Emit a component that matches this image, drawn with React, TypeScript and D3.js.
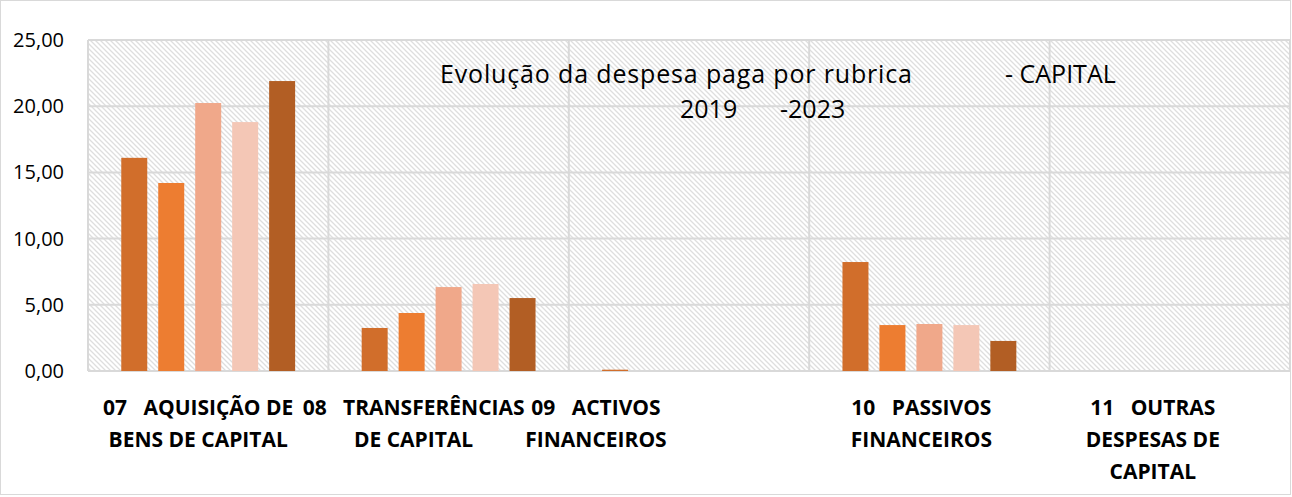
import React, { useRef, useEffect } from 'react';
import * as d3 from 'd3';

const categories = [
  ['07   AQUISIÇÃO DE', 'BENS DE CAPITAL'],
  ['08   TRANSFERÊNCIAS', 'DE CAPITAL'],
  ['09   ACTIVOS', 'FINANCEIROS'],
  ['10   PASSIVOS', 'FINANCEIROS'],
  ['11   OUTRAS', 'DESPESAS DE', 'CAPITAL'],
];
const years = ['2019', '2020', '2021', '2022', '2023'];
const v2019 = [16.1, 3.25, 0.1, 8.23, 0];
const v2020 = [14.2, 4.38, 0, 3.47, 0];
const v2021 = [20.24, 6.34, 0, 3.55, 0];
const v2022 = [18.8, 6.57, 0, 3.47, 0];
const v2023 = [21.9, 5.51, 0, 2.27, 0];
const yTicks = [0, 5, 10, 15, 20, 25];

const colors = ['#D16E2B', '#ED7D31', '#F0A88A', '#F4C7B6', '#B25E24'];
// Excel shifts some wrapped labels; small per-label nudges
const labelShift = [-10, -35, -93, -8, -17];

export default function App() {
  const svgRef = useRef(null);

  useEffect(() => {
    document.body.style.margin = '0';
    const width = 1292;
    const height = 497;
    const m = { top: 40, right: 2, bottom: 126, left: 88 };

    const svg = d3.select(svgRef.current);
    svg.selectAll('*').remove();
    svg.attr('width', width).attr('height', height);

    const defs = svg.append('defs');
    const pat = defs.append('pattern')
      .attr('id', 'hatch')
      .attr('patternUnits', 'userSpaceOnUse')
      .attr('width', 5).attr('height', 5);
    pat.append('rect').attr('width', 5).attr('height', 5).attr('fill', '#fff');
    pat.append('path')
      .attr('d', 'M-1,-1 L6,6 M-4,1 L4,9 M1,-4 L9,4')
      .attr('stroke', '#dedede')
      .attr('stroke-width', 1.3);

    svg.append('rect')
      .attr('x', 0.5).attr('y', 0.5)
      .attr('width', width - 2).attr('height', height - 3)
      .attr('fill', '#fff').attr('stroke', '#d9d9d9');

    const x0 = d3.scaleBand()
      .domain(categories.map((_, i) => String(i)))
      .range([m.left, width - m.right])
      .paddingInner(0)
      .paddingOuter(0);
    const x1 = d3.scaleBand()
      .domain(years)
      .range([0, x0.bandwidth()])
      .paddingInner(0.297)
      .paddingOuter(0.9);
    const y = d3.scaleLinear().domain([0, 25]).range([height - m.bottom, m.top]);

    const g = svg.append('g');
    g.append('rect')
      .attr('x', m.left).attr('y', m.top)
      .attr('width', width - m.left - m.right)
      .attr('height', y(0) - m.top)
      .attr('fill', 'url(#hatch)');

    // gridlines
    g.selectAll('.hg').data(yTicks).enter().append('line')
      .attr('x1', m.left).attr('x2', width - m.right)
      .attr('y1', d => y(d)).attr('y2', d => y(d))
      .attr('stroke', '#d9d9d9').attr('stroke-width', 2);
    const bounds = categories.map((_, i) => x0(String(i))).concat([width - m.right]);
    g.selectAll('.vg').data(bounds).enter().append('line')
      .attr('x1', d => d).attr('x2', d => d)
      .attr('y1', m.top).attr('y2', y(0))
      .attr('stroke', '#d9d9d9').attr('stroke-width', 2);

    g.selectAll('.yl').data(yTicks).enter().append('text')
      .attr('x', 64).attr('y', d => y(d))
      .attr('dy', '0.35em')
      .attr('text-anchor', 'end')
      .attr('font-family', 'Open Sans, sans-serif')
      .attr('font-size', 20)
      .attr('fill', '#000')
      .text(d => d3.format('.2f')(d).replace('.', ','));

    const series = [v2019, v2020, v2021, v2022, v2023];
    const bars = [];
    series.forEach((vals, si) => {
      vals.forEach((v, ci) => { if (v > 0) bars.push({ si, ci, v }); });
    });
    g.selectAll('.bar').data(bars).enter().append('rect')
      .attr('x', d => (x0(String(d.ci)) || 0) + (x1(years[d.si]) || 0))
      .attr('width', x1.bandwidth())
      .attr('y', d => y(d.v))
      .attr('height', d => Math.max(0, y(0) - y(d.v)))
      .attr('fill', d => colors[d.si]);

    // category labels
    categories.forEach((lines, i) => {
      const cx = (x0(String(i)) || 0) + x0.bandwidth() / 2 + labelShift[i];
      const t = g.append('text')
        .attr('text-anchor', 'middle')
        .attr('font-family', 'Open Sans, sans-serif')
        .attr('font-weight', 'bold')
        .attr('font-size', 21)
        .attr('fill', '#000')
        .style('white-space', 'pre');
      lines.forEach((ln, li) => {
        t.append('tspan').attr('x', cx).attr('y', 415 + li * 32).text(ln);
      });
    });

    // title
    const title = svg.append('g')
      .attr('font-family', 'Open Sans, sans-serif')
      .attr('font-size', 25)
      .attr('fill', '#000');
    title.append('text').attr('x', 440).attr('y', 83).attr('textLength', 472)
      .text('Evolução da despesa paga por rubrica');
    title.append('text').attr('x', 1005).attr('y', 83).text('- CAPITAL');
    title.append('text').attr('x', 680).attr('y', 118).text('2019');
    title.append('text').attr('x', 780).attr('y', 118).text('-2023');
  }, []);

  return <svg ref={svgRef} style={{ display: 'block' }}></svg>;
}
